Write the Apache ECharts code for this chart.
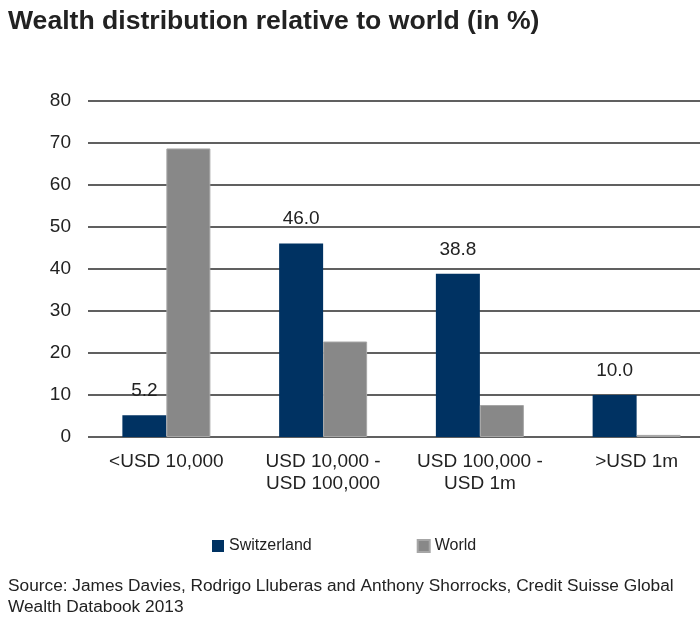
<!DOCTYPE html>
<html>
<head>
<meta charset="utf-8">
<script src="https://cdn.jsdelivr.net/npm/echarts@6/dist/echarts.min.js"></script>
<style>
html,body{margin:0;padding:0;background:#fff;}
#c{width:700px;height:623px;}
</style>
</head>
<body>
<div id="c"></div>
<script>
var categories = ['<USD 10,000', 'USD 10,000 -\nUSD 100,000', 'USD 100,000 -\nUSD 1m', '>USD 1m'];
var switzerland = [5.2, 46.0, 38.8, 10.0];
var world = [68.6, 22.7, 7.6, 0.5];
var yTicks = {min: 0, max: 80, interval: 10};

var FONT = '"Liberation Sans", Arial, sans-serif';
var chart = echarts.init(document.getElementById('c'), null, {renderer: 'canvas'});
chart.setOption({
  animation: false,
  backgroundColor: '#ffffff',
  title: [{
    text: 'Wealth distribution relative to world (in %)',
    left: 3, top: 3,
    textStyle: {fontFamily: FONT, fontSize: 26.6, fontWeight: 'bold', color: '#222'}
  }, {
    text: 'Source: James Davies, Rodrigo Lluberas and Anthony Shorrocks, Credit Suisse Global\nWealth Databook 2013',
    left: 3, top: 571,
    textStyle: {fontFamily: FONT, fontSize: 17.3, fontWeight: 'normal', color: '#222', lineHeight: 21}
  }],
  legend: {
    left: 207, top: 533,
    itemWidth: 12, itemHeight: 12, itemGap: 105,
    icon: 'rect',
    textStyle: {fontFamily: FONT, fontSize: 16, color: '#222'},
    data: ['Switzerland', 'World']
  },
  grid: {left: 88, width: 627, top: 100.5, bottom: 186, containLabel: false, outerBoundsMode: 'none'},
  xAxis: {
    type: 'category',
    data: categories,
    axisLine: {show: false},
    axisTick: {show: false},
    axisLabel: {fontFamily: FONT, fontSize: 19, color: '#222', margin: 14, lineHeight: 22, interval: 0}
  },
  yAxis: {
    type: 'value',
    min: yTicks.min, max: yTicks.max, interval: yTicks.interval,
    axisLine: {show: false},
    axisTick: {show: false},
    axisLabel: {fontFamily: FONT, fontSize: 19, color: '#222', margin: 17},
    splitLine: {lineStyle: {color: '#2b2b2b', width: 1.6}}
  },
  series: [{
    name: 'Switzerland',
    type: 'bar',
    data: switzerland,
    barWidth: 44,
    barGap: '0%',
    itemStyle: {color: '#003262'},
    label: {
      show: true, position: 'top', distance: 15,
      formatter: function (p) { return p.value.toFixed(1); },
      fontFamily: FONT, fontSize: 19, color: '#222'
    }
  }, {
    name: 'World',
    type: 'bar',
    data: world,
    barWidth: 44,
    barGap: '0%',
    itemStyle: {color: '#888888', borderColor: '#a6a6a6', borderWidth: 1}
  }]
});
</script>
</body>
</html>
